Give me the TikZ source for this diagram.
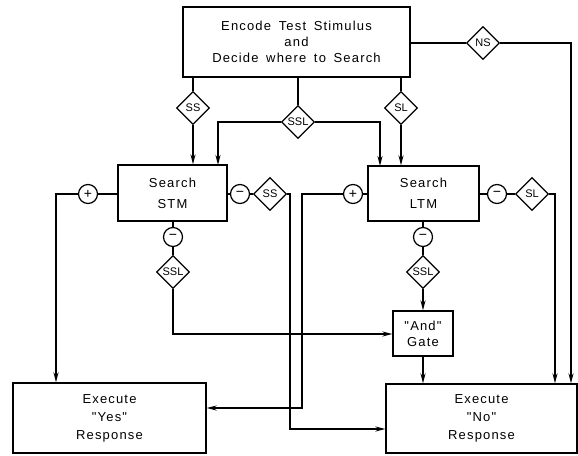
\documentclass[tikz,border=0pt]{standalone}
\usepackage{fontspec}
\setmainfont{Liberation Sans}
\newfontfamily\lettering[LetterSpace=9,WordSpace=1.6]{Liberation Sans}
\usetikzlibrary{shapes.geometric,arrows.meta,calc}
\begin{document}
\begin{tikzpicture}[x=1pt,y=-1pt,
 box/.style={draw, line width=1.2pt, rectangle, align=center, inner sep=0pt,
   font=\lettering\fontsize{13}{16}\selectfont},
 dia/.style={draw, fill=white, line width=1.2pt, diamond, minimum width=33pt, minimum height=33pt,
   inner sep=0pt, font=\fontsize{11}{11}\selectfont},
 sgn/.style={draw, fill=white, line width=1.2pt, circle, minimum size=19pt, inner sep=0pt,
   font=\fontsize{14}{14}\selectfont},
 conn/.style={line width=1.6pt},
 arr/.style={conn, -{Stealth[length=10pt,width=5pt]}}
]
\useasboundingbox (0,0) rectangle (578,455);

% boxes
\node[box, minimum width=227pt, minimum height=70pt] (top) at (296.5,42)
  {Encode Test Stimulus\\and\\Decide where to Search};
\node[box, minimum width=109pt, minimum height=56pt] (stm) at (172.5,193)
  {Search\\[5pt]STM};
\node[box, minimum width=111pt, minimum height=55pt] (ltm) at (423.5,193.5)
  {Search\\[5pt]LTM};
\node[box, minimum width=60pt, minimum height=45pt] (gate) at (423,333.5)
  {"And"\\Gate};
\node[box, minimum width=193pt, minimum height=70pt] (yes) at (109.5,418)
  {Execute\\[2pt]"Yes"\\[2pt]Response};
\node[box, minimum width=191pt, minimum height=69pt] (no) at (481.5,418.5)
  {Execute\\[2pt]"No"\\[2pt]Response};

% diamonds
\node[dia] (dSSa) at (193,108) {SS};
\node[dia] (dSSLa) at (298,122) {SSL};
\node[dia] (dSLa) at (401,108) {SL};
\node[dia] (dNS) at (483,43) {NS};
\node[dia] (dSSb) at (270,194) {SS};
\node[dia] (dSLb) at (532,194) {SL};
\node[dia] (dSSLb) at (173,272) {SSL};
\node[dia] (dSSLc) at (423,272) {SSL};

% sign circles
\node[sgn] (pA) at (88,194) {+};
\node[sgn] (mA) at (240,194) {−};
\node[sgn] (mB) at (173,237) {−};
\node[sgn] (pB) at (353,194) {+};
\node[sgn] (mC) at (497,194) {−};
\node[sgn] (mD) at (423,237) {−};

% free corner / entry coordinates
\coordinate (stmIn) at (218,165);
\coordinate (ltmIn) at (380,166);
\coordinate (nsCorner) at (571,43);
\coordinate (yesCorner) at (56,194);
\coordinate (ssCorner) at (290,194);
\coordinate (ssLow) at (290,429);
\coordinate (slCorner) at (555,194);
\coordinate (ltmPosCorner) at (302,194);
\coordinate (ltmPosLow) at (302,408);
\coordinate (sslLow) at (173,334);

% from the top box
\draw[conn] (top.south -| dSSa) -- (dSSa.north);
\draw[arr] (dSSa.south) -- (dSSa.south |- stm.north);
\draw[conn] (top.south -| dSSLa) -- (dSSLa.north);
\draw[arr] (dSSLa.west) -| (stmIn);
\draw[arr] (dSSLa.east) -| (ltmIn);
\draw[conn] (top.south -| dSLa) -- (dSLa.north);
\draw[arr] (dSLa.south) -- (dSLa.south |- ltm.north);
\draw[conn] (top.east |- dNS) -- (dNS.west);
\draw[arr] (dNS.east) -- (nsCorner) -- (nsCorner |- no.north);

% from STM
\draw[conn] (stm.west |- pA) -- (pA.east);
\draw[arr] (pA.west) -- (yesCorner) -- (yesCorner |- yes.north);
\draw[conn] (stm.east |- mA) -- (mA.west);
\draw[conn] (mA.east) -- (dSSb.west);
\draw[arr] (dSSb.east) -- (ssCorner) -- (ssLow) -- (no.west |- ssLow);
\draw[conn] (stm.south -| mB) -- (mB.north);
\draw[conn] (mB.south) -- (dSSLb.north);
\draw[arr] (dSSLb.south) -- (sslLow) -- (gate.west |- sslLow);

% from LTM
\draw[conn] (ltm.west |- pB) -- (pB.east);
\draw[arr] (pB.west) -- (ltmPosCorner) -- (ltmPosLow) -- (yes.east |- ltmPosLow);
\draw[conn] (ltm.east |- mC) -- (mC.west);
\draw[conn] (mC.east) -- (dSLb.west);
\draw[arr] (dSLb.east) -- (slCorner) -- (slCorner |- no.north);
\draw[conn] (ltm.south -| mD) -- (mD.north);
\draw[conn] (mD.south) -- (dSSLc.north);
\draw[arr] (dSSLc.south) -- (gate.north);

% gate to No
\draw[arr] (gate.south) -- (gate.south |- no.north);
\end{tikzpicture}
\end{document}
